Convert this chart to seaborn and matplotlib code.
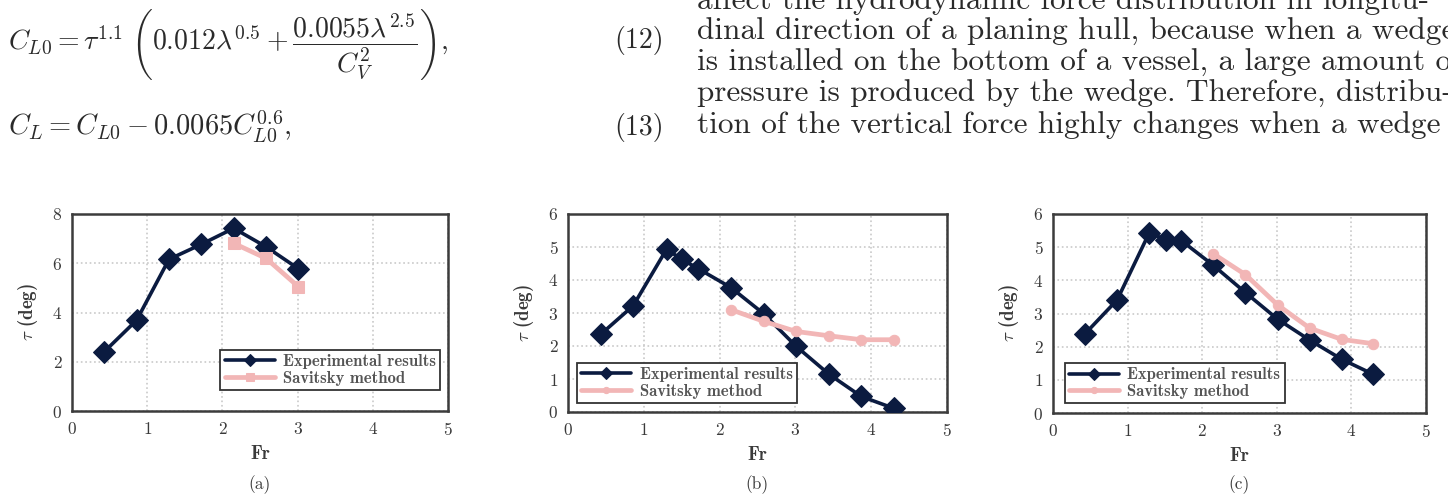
import matplotlib
matplotlib.use("Agg")
import pandas as pd
import matplotlib.pyplot as plt
import seaborn as sns

# ---- data ----
fr_exp_a = [0.43, 0.86, 1.29, 1.72, 2.15, 2.58, 3.01]
tau_exp_a = [2.41, 3.69, 6.16, 6.77, 7.42, 6.67, 5.78]
fr_sav_a = [2.15, 2.58, 3.01]
tau_sav_a = [6.81, 6.20, 5.05]

fr_exp_b = [0.44, 0.86, 1.30, 1.50, 1.72, 2.15, 2.58, 3.01, 3.44, 3.87, 4.30]
tau_exp_b = [2.37, 3.22, 4.93, 4.63, 4.34, 3.77, 2.98, 1.99, 1.15, 0.47, 0.11]
fr_sav_b = [2.15, 2.58, 3.01, 3.44, 3.87, 4.30]
tau_sav_b = [3.10, 2.75, 2.44, 2.31, 2.19, 2.19]

fr_exp_c = [0.43, 0.86, 1.29, 1.51, 1.72, 2.15, 2.58, 3.01, 3.44, 3.87, 4.29]
tau_exp_c = [2.39, 3.41, 5.43, 5.23, 5.20, 4.45, 3.63, 2.83, 2.20, 1.62, 1.17]
fr_sav_c = [2.15, 2.58, 3.01, 3.44, 3.87, 4.29]
tau_sav_c = [4.80, 4.17, 3.26, 2.56, 2.22, 2.09]

series_names = ["Experimental results", "Savitsky method"]
panel_labels = ["(a)", "(b)", "(c)"]
y_max = [8, 6, 6]
y_step = [2, 1, 1]

paragraph = [
    "affect the hydrodynamic force distribution in longitu-",
    "dinal direction of a planing hull, because when a wedge",
    "is installed on the bottom of a vessel, a large amount of",
    "pressure is produced by the wedge. Therefore, distribu-",
    "tion of the vertical force highly changes when a wedge",
]

EXP_COLOR = "#0b1b40"
SAV_COLOR = "#f2b6b6"
INK = "#2a2a2a"
W, H = 1448, 497

sns.set_theme(style="whitegrid")
plt.rcParams["font.family"] = ["cmr10", "DejaVu Serif"]
plt.rcParams["mathtext.fontset"] = "cm"
plt.rcParams["axes.formatter.use_mathtext"] = True
BOLD = ["cmb10", "DejaVu Serif"]


def build_df(fr_exp, tau_exp, fr_sav, tau_sav):
    a = pd.DataFrame({"Fr": fr_exp, "tau": tau_exp, "Series": series_names[0]})
    b = pd.DataFrame({"Fr": fr_sav, "tau": tau_sav, "Series": series_names[1]})
    return pd.concat([a, b], ignore_index=True)


panels = [
    build_df(fr_exp_a, tau_exp_a, fr_sav_a, tau_sav_a),
    build_df(fr_exp_b, tau_exp_b, fr_sav_b, tau_sav_b),
    build_df(fr_exp_c, tau_exp_c, fr_sav_c, tau_sav_c),
]

# pixel boxes of the three axes (x0, y0, x1, y1)
boxes = [(72, 214, 448, 411), (568, 214, 947, 412), (1053, 214, 1426, 413)]
legend_loc = ["lower right", "lower left", "lower left"]
legend_anchor = [(0.979, 0.107), (0.024, 0.045), (0.032, 0.049)]
sav_marker = ["s", "o", "o"]

fig = plt.figure(figsize=(W / 100, H / 100), dpi=100)

for i, df in enumerate(panels):
    x0, y0, x1, y1 = boxes[i]
    ax = fig.add_axes([x0 / W, 1 - y1 / H, (x1 - x0) / W, (y1 - y0) / H])
    exp = df[df["Series"] == series_names[0]]
    sav = df[df["Series"] == series_names[1]]
    sns.lineplot(data=exp, x="Fr", y="tau", ax=ax, color=EXP_COLOR, lw=2.6,
                 marker="D", markersize=11, markeredgecolor=EXP_COLOR,
                 label=series_names[0], zorder=3)
    sns.lineplot(data=sav, x="Fr", y="tau", ax=ax, color=SAV_COLOR, lw=3.4,
                 marker=sav_marker[i], markersize=9 if i == 0 else 7.5,
                 markeredgecolor=SAV_COLOR, label=series_names[1], zorder=4)
    ax.set_xlim(0, 5)
    ax.set_ylim(0, y_max[i])
    ax.set_xticks(range(0, 6))
    ax.set_yticks(range(0, y_max[i] + 1, y_step[i]))
    ax.grid(True, color="#c9c9c9", linestyle=":", linewidth=1.2)
    for s in ax.spines.values():
        s.set_color("#3c3c3c")
        s.set_linewidth(1.8)
    ax.tick_params(length=0, labelsize=12.5, colors="#3a3a3a", pad=7)
    ax.set_xlabel("Fr", fontsize=13.5, color="#3a3a3a", labelpad=5,
                  family=BOLD)
    ax.set_ylabel(r"$\tau$ (deg)", fontsize=13.5, color="#3a3a3a",
                  labelpad=9, family=BOLD)
    ax.set_facecolor("white")
    leg = ax.legend(loc=legend_loc[i], bbox_to_anchor=legend_anchor[i],
                    borderaxespad=0, frameon=True, fancybox=False,
                    edgecolor="#333333", framealpha=1,
                    prop={"family": BOLD, "size": 12},
                    handlelength=3.0, labelspacing=0.1, borderpad=0.25,
                    handletextpad=0.5, markerscale=0.6)
    leg.get_frame().set_linewidth(1.3)
    for t in leg.get_texts():
        t.set_color("#555555")
    cx = (x0 + x1) / 2
    fig.text(cx / W, 1 - 485 / H, panel_labels[i], ha="center", va="center",
             fontsize=12.5, color="#3a3a3a")

# surrounding page text
fig.text(8 / W, 1 - 50 / H,
         r"$C_{L0} = \tau^{1.1}\;\left(0.012\lambda^{0.5} + \dfrac{0.0055\lambda^{2.5}}{C_V^2}\right),$",
         fontsize=20, ha="left", va="baseline", color=INK)
fig.text(8 / W, 1 - 135 / H, r"$C_L = C_{L0} - 0.0065C_{L0}^{0.6},$",
         fontsize=20.5, ha="left", va="baseline", color=INK)
fig.text(614 / W, 1 - 48 / H, "(12)", fontsize=20, ha="left", va="baseline",
         color=INK)
fig.text(614 / W, 1 - 135 / H, "(13)", fontsize=20, ha="left", va="baseline",
         color=INK)
for k, line in enumerate(paragraph):
    fig.text(697 / W, 1 - (9 + 31 * k) / H, line, fontsize=22.5, ha="left",
             va="baseline", color=INK)

fig.savefig("out.png", dpi=100, facecolor="white")
